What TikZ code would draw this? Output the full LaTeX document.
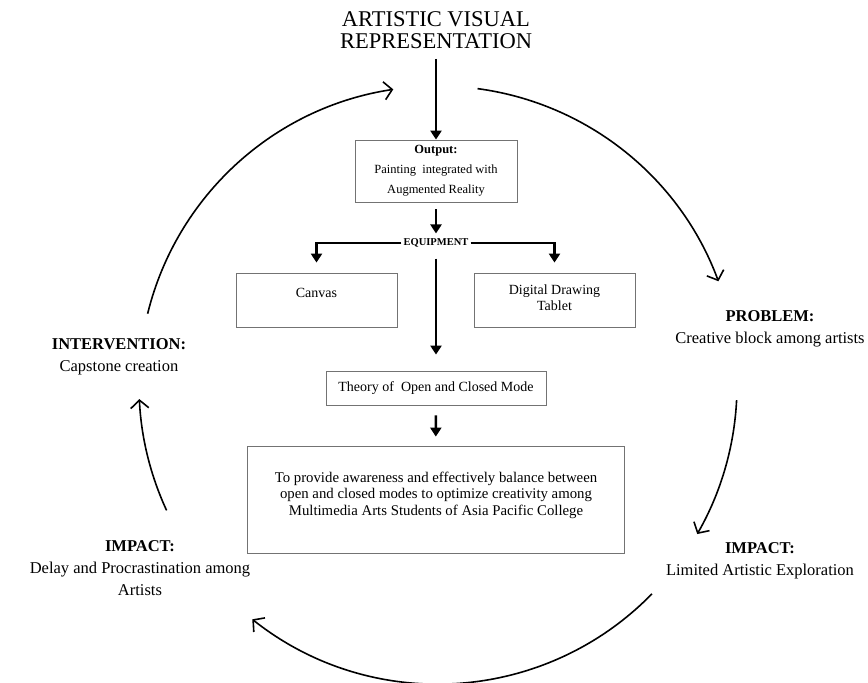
\documentclass[tikz,border=0pt]{standalone}
\usepackage{fontspec}
\setmainfont{Liberation Serif}
\usetikzlibrary{arrows.meta}
\begin{document}
\begin{tikzpicture}[x=1pt,y=1pt,
  box/.style={draw=black!55, line width=0.8pt, inner sep=0pt},
  flow/.style={line width=2.4pt, -{Triangle[length=9pt,width=11pt]}},
  cyc/.style={line width=1.6pt, -{Straight Barb[length=8pt,width=18pt]}},
  lab/.style={align=center, font=\fontsize{16.5}{22}\selectfont},
]
\useasboundingbox (0,0) rectangle (868,683);
\fill[white] (0,0) rectangle (868,683);

\node[align=center, font=\fontsize{22.5}{22}\selectfont, inner sep=0pt] (title) at (436,653) {ARTISTIC VISUAL\\REPRESENTATION};

\node[box, minimum width=162, minimum height=62, align=center, font=\fontsize{12.5}{20}\selectfont] (out) at (436,512) {\textbf{Output:}\\Painting\ \ integrated with\\Augmented Reality};

\node[font=\bfseries\fontsize{10.5}{12}\selectfont, inner sep=2pt] (eq) at (436,440) {EQUIPMENT};

\node[box, minimum width=161, minimum height=54] (canvas) at (316.5,383) {};
\node[font=\fontsize{14}{16}\selectfont] (canvast) at (316.5,390) {Canvas};
\node[box, minimum width=161, minimum height=54] (tablet) at (554.5,383) {};
\node[align=center, font=\fontsize{14}{15.5}\selectfont] (tablett) at (554.5,385.5) {Digital Drawing\\Tablet};

\node[box, minimum width=220, minimum height=34, font=\fontsize{14}{16}\selectfont] (theory) at (436,295) {Theory of\ \ Open and Closed Mode};

\node[box, minimum width=377, minimum height=107] (goal) at (435.5,183.5) {};
\node[align=center, font=\fontsize{14.8}{16.5}\selectfont] (goalt) at (436,188) {To provide awareness and effectively balance between\\open and closed modes to optimize creativity among\\Multimedia Arts Students of Asia Pacific College};

\draw[flow, shorten <=10pt] (title) -- (out);
\draw[flow, shorten <=7pt, shorten >=3pt] (out) -- (eq);
\draw[flow, shorten >=10pt] (eq.west) -| (canvas);
\draw[flow, shorten >=10pt] (eq.east) -| (tablet);
\draw[flow, shorten <=9pt, shorten >=16pt] (eq) -- (theory);
\draw[flow, shorten <=10pt, shorten >=9pt] (theory) -- (goal);

\node[lab] (interv) at (119,326) {\textbf{INTERVENTION:}\\Capstone creation};
\node[lab] (prob) at (770,354.5) {\textbf{PROBLEM:}\\Creative block among artists};
\node[lab] (impR) at (760,122) {\textbf{IMPACT:}\\Limited Artistic Exploration};
\node[lab] (impL) at (140,115) {\textbf{IMPACT:}\\Delay and Procrastination among\\Artists};

\coordinate (C) at (438,298);
\draw[cyc] ([shift={(166.2:299)}]C) arc[start angle=166.2, end angle=98.6, radius=299pt];
\draw[cyc] ([shift={(82.4:299)}]C) arc[start angle=82.4, end angle=20.3, radius=299pt];
\draw[cyc] ([shift={(-2.9:299)}]C) arc[start angle=-2.9, end angle=-29.9, radius=299pt];
\draw[cyc] ([shift={(-44.3:299)}]C) arc[start angle=-44.3, end angle=-128.4, radius=299pt];
\draw[cyc] ([shift={(204.8:299)}]C) arc[start angle=204.8, end angle=182.7, radius=299pt];
\end{tikzpicture}
\end{document}
